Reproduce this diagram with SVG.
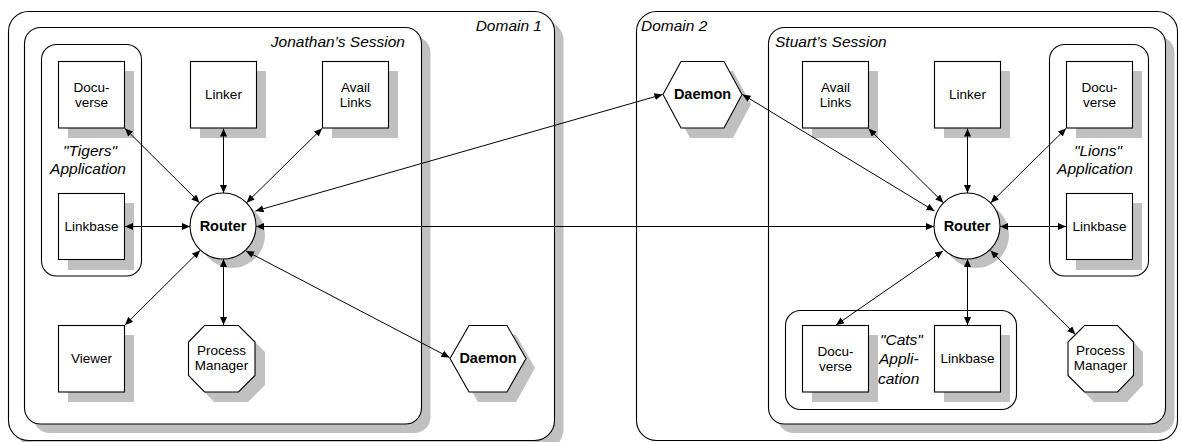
<svg xmlns="http://www.w3.org/2000/svg" width="1182" height="442" viewBox="0 0 1182 442">
  <style>
    .frame { fill: #ffffff; stroke: #000000; stroke-width: 1.1; }
    .shadow { fill: #c0c0c0; stroke: none; }
    .node { fill: #ffffff; stroke: #000000; stroke-width: 1.1; }
    .label { font-family: "Liberation Sans", Arial, sans-serif; font-size: 13.5px; fill: #000000; text-anchor: middle; }
    .bold { font-family: "Liberation Sans", Arial, sans-serif; font-size: 14.5px; font-weight: bold; fill: #000000; text-anchor: middle; }
    .title { font-family: "Liberation Sans", Arial, sans-serif; font-size: 15.5px; font-style: italic; fill: #000000; }
    .link { fill: none; stroke: #000000; stroke-width: 1; marker-start: url(#arrow); marker-end: url(#arrow); }
  </style>
  <defs>
    <marker id="arrow" markerUnits="userSpaceOnUse" markerWidth="9" markerHeight="8" refX="8" refY="3.5" orient="auto-start-reverse">
      <path d="M0,0 L8,3.5 L0,7 z" fill="#000000"/>
    </marker>
  </defs>

  <rect width="1182" height="442" fill="#ffffff"/>

  <!-- Domain 1 -->
  <g id="domain1">
    <rect class="shadow" x="17.5" y="20.5" width="546" height="429" rx="20"/>
    <rect class="frame" x="8.5" y="11.5" width="546" height="429" rx="20"/>
    <text class="title" x="542" y="31" text-anchor="end">Domain 1</text>
  </g>

  <!-- Domain 2 -->
  <g id="domain2">
    <rect class="frame" x="636.5" y="11.5" width="541" height="429" rx="20"/>
    <text class="title" x="641" y="31">Domain 2</text>
  </g>

  <!-- Jonathan's session -->
  <g id="session-jonathan">
    <rect class="shadow" x="33.5" y="36.5" width="397" height="396.5" rx="16"/>
    <rect class="frame" x="24.5" y="27.5" width="397" height="396.5" rx="16"/>
    <text class="title" x="405" y="47" text-anchor="end">Jonathan’s Session</text>
  </g>

  <!-- Stuart's session -->
  <g id="session-stuart">
    <rect class="shadow" x="777.5" y="36.5" width="397" height="396.5" rx="16"/>
    <rect class="frame" x="768.5" y="27.5" width="397" height="396.5" rx="16"/>
    <text class="title" x="775" y="47">Stuart’s Session</text>
  </g>

  <!-- Application groups -->
  <g id="app-tigers">
    <rect class="frame" x="41.5" y="44.5" width="100" height="231.5" rx="15"/>
    <text class="title" x="90" y="156" text-anchor="middle">"Tigers"</text>
    <text class="title" x="88" y="174" text-anchor="middle">Application</text>
  </g>
  <g id="app-lions">
    <rect class="frame" x="1049.5" y="44.5" width="99" height="231.5" rx="15"/>
    <text class="title" x="1098" y="156" text-anchor="middle">"Lions"</text>
    <text class="title" x="1095" y="174" text-anchor="middle">Application</text>
  </g>
  <g id="app-cats">
    <rect class="frame" x="785.5" y="310.5" width="231" height="99" rx="15"/>
    <text class="title" x="880" y="345">"Cats"</text>
    <text class="title" x="879" y="364">Appli-</text>
    <text class="title" x="878" y="384">cation</text>
  </g>

  <!-- Jonathan's nodes -->
  <g id="docuverse-tigers">
    <rect class="shadow" x="68" y="71" width="66" height="67"/>
    <rect class="node" x="58.5" y="61.5" width="66" height="66.5"/>
    <text class="label" x="91.5" y="91.5">Docu-</text>
    <text class="label" x="91.5" y="106.5">verse</text>
  </g>
  <g id="linker-1">
    <rect class="shadow" x="200" y="71" width="66" height="67"/>
    <rect class="node" x="190.5" y="61.5" width="66" height="66.5"/>
    <text class="label" x="223.5" y="99">Linker</text>
  </g>
  <g id="availlinks-1">
    <rect class="shadow" x="332" y="71" width="66" height="67"/>
    <rect class="node" x="322.5" y="61.5" width="66" height="66.5"/>
    <text class="label" x="355.5" y="91.5">Avail</text>
    <text class="label" x="355.5" y="106.5">Links</text>
  </g>
  <g id="linkbase-tigers">
    <rect class="shadow" x="68" y="203" width="66" height="67"/>
    <rect class="node" x="58.5" y="193.5" width="66" height="66"/>
    <text class="label" x="91.5" y="231">Linkbase</text>
  </g>
  <g id="viewer">
    <rect class="shadow" x="68" y="335" width="66" height="67"/>
    <rect class="node" x="58.5" y="325.5" width="66" height="66.5"/>
    <text class="label" x="91.5" y="363">Viewer</text>
  </g>
  <g id="router-1">
    <circle class="shadow" cx="232" cy="235" r="33"/>
    <circle class="node" cx="223" cy="226" r="33"/>
    <text class="bold" x="223" y="231">Router</text>
  </g>
  <g id="process-manager-1">
    <polygon class="shadow" points="214,335 248,335 265,352 265,385 248,402 214,402 198,385 198,352"/>
    <polygon class="node" points="204.5,325.5 238.5,325.5 255,342 255,375.5 238.5,392 204.5,392 188.5,375.5 188.5,342"/>
    <text class="label" x="221.5" y="354.5">Process</text>
    <text class="label" x="221.5" y="370">Manager</text>
  </g>
  <g id="daemon-1">
    <polygon class="shadow" points="459,368 478,335 516,335 535,368 516,402 478,402"/>
    <polygon class="node" points="450,358.5 469,325.5 507,325.5 526,358.5 507,392 469,392"/>
    <text class="bold" x="488" y="363">Daemon</text>
  </g>

  <!-- Stuart's nodes -->
  <g id="daemon-2">
    <polygon class="shadow" points="672,104 690,71 733,71 751,104 733,138 690,138"/>
    <polygon class="node" points="663,94.5 681,61.5 724,61.5 742,94.5 724,128 681,128"/>
    <text class="bold" x="702.5" y="99">Daemon</text>
  </g>
  <g id="availlinks-2">
    <rect class="shadow" x="812" y="71" width="66" height="67"/>
    <rect class="node" x="802.5" y="61.5" width="66" height="66.5"/>
    <text class="label" x="835.5" y="91.5">Avail</text>
    <text class="label" x="835.5" y="106.5">Links</text>
  </g>
  <g id="linker-2">
    <rect class="shadow" x="944" y="71" width="66" height="67"/>
    <rect class="node" x="934.5" y="61.5" width="66" height="66.5"/>
    <text class="label" x="967.5" y="99">Linker</text>
  </g>
  <g id="docuverse-lions">
    <rect class="shadow" x="1076" y="71" width="66" height="67"/>
    <rect class="node" x="1066.5" y="61.5" width="66" height="66.5"/>
    <text class="label" x="1099.5" y="91.5">Docu-</text>
    <text class="label" x="1099.5" y="106.5">verse</text>
  </g>
  <g id="linkbase-lions">
    <rect class="shadow" x="1076" y="203" width="66" height="67"/>
    <rect class="node" x="1066.5" y="193.5" width="66" height="66"/>
    <text class="label" x="1099.5" y="231">Linkbase</text>
  </g>
  <g id="router-2">
    <circle class="shadow" cx="976" cy="235" r="33"/>
    <circle class="node" cx="967" cy="226" r="33"/>
    <text class="bold" x="967" y="231">Router</text>
  </g>
  <g id="docuverse-cats">
    <rect class="shadow" x="812" y="335" width="66" height="67"/>
    <rect class="node" x="802.5" y="325.5" width="66" height="66.5"/>
    <text class="label" x="835.5" y="355.5">Docu-</text>
    <text class="label" x="835.5" y="370.5">verse</text>
  </g>
  <g id="linkbase-cats">
    <rect class="shadow" x="944" y="335" width="66" height="67"/>
    <rect class="node" x="934.5" y="325.5" width="66" height="66.5"/>
    <text class="label" x="967.5" y="363">Linkbase</text>
  </g>
  <g id="process-manager-2">
    <polygon class="shadow" points="1094,335 1127,335 1143,352 1143,385 1127,402 1094,402 1077,385 1077,352"/>
    <polygon class="node" points="1084.5,325.5 1117.5,325.5 1133.5,342 1133.5,375.5 1117.5,392 1084.5,392 1068,375.5 1068,342"/>
    <text class="label" x="1100.5" y="354.5">Process</text>
    <text class="label" x="1100.5" y="370">Manager</text>
  </g>

  <!-- Connectors -->
  <g id="connectors">
    <line class="link" x1="125" y1="128.5" x2="199.6" y2="202.7"/>
    <line class="link" x1="223.5" y1="128.5" x2="223.5" y2="193"/>
    <line class="link" x1="322" y1="128.5" x2="246.6" y2="202.7"/>
    <line class="link" x1="125" y1="226.5" x2="190" y2="226.5"/>
    <line class="link" x1="125" y1="325" x2="200" y2="250.5"/>
    <line class="link" x1="223.5" y1="259" x2="223.5" y2="325"/>
    <line class="link" x1="246" y1="251" x2="449.5" y2="357.5"/>
    <line class="link" x1="255.5" y1="211" x2="662.5" y2="94.5"/>
    <line class="link" x1="256" y1="226.5" x2="934" y2="226.5"/>
    <line class="link" x1="742.5" y1="94.5" x2="934.5" y2="211"/>
    <line class="link" x1="868.5" y1="128.5" x2="943.4" y2="202.7"/>
    <line class="link" x1="967.5" y1="128.5" x2="967.5" y2="193"/>
    <line class="link" x1="1066" y1="128.5" x2="990.8" y2="202.7"/>
    <line class="link" x1="1000" y1="226.5" x2="1066" y2="226.5"/>
    <line class="link" x1="943" y1="251" x2="836" y2="325"/>
    <line class="link" x1="967.5" y1="259" x2="967.5" y2="325"/>
    <line class="link" x1="990.5" y1="250.5" x2="1075.5" y2="334.5"/>
  </g>
</svg>
